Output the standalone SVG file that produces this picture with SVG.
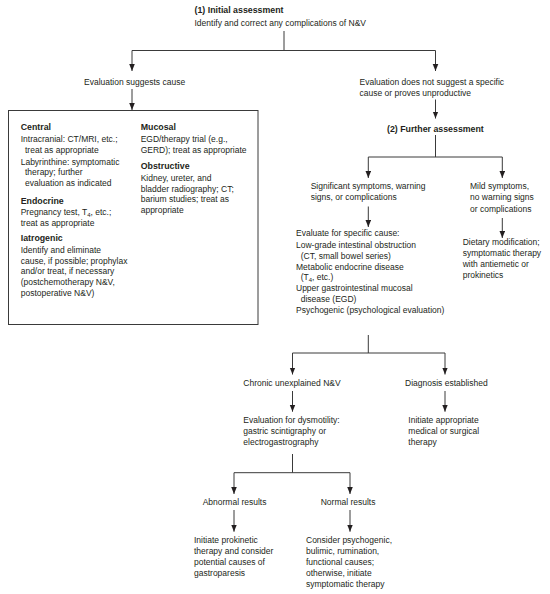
<svg xmlns="http://www.w3.org/2000/svg" width="550" height="594" viewBox="0 0 550 594">
<defs>
<marker id="ah" markerUnits="userSpaceOnUse" markerWidth="8" markerHeight="8" refX="7" refY="3" orient="auto">
<path d="M0,0.2 L7,3 L0,5.8 z" fill="#231f20"/>
</marker>
<style>
text{font-family:"Liberation Sans",Arial,sans-serif;font-size:8.5px;fill:#231f20}
.b{font-weight:bold;font-size:8.8px}
.c line{stroke:#3a3a3a;stroke-width:1;fill:none}
.a{marker-end:url(#ah)}
.box{fill:none;stroke:#3a3a3a;stroke-width:1}
.sub{font-size:6px}
</style>
</defs>
<rect width="550" height="594" fill="#fff"/>

<g class="c" id="connectors">
<line x1="284" y1="31" x2="284" y2="50.5"/>
<line x1="132" y1="50.5" x2="435.5" y2="50.5"/>
<line class="a" x1="132" y1="50.5" x2="132" y2="71"/>
<line class="a" x1="435.5" y1="50.5" x2="435.5" y2="71"/>
<line class="a" x1="132" y1="89" x2="132" y2="110"/>
<line class="a" x1="435.5" y1="99.5" x2="435.5" y2="118.5"/>
<line x1="435.5" y1="135" x2="435.5" y2="157"/>
<line x1="368.3" y1="157" x2="502.3" y2="157"/>
<line class="a" x1="368.3" y1="157" x2="368.3" y2="178"/>
<line class="a" x1="502.3" y1="157" x2="502.3" y2="178"/>
<line class="a" x1="368.3" y1="206.5" x2="368.3" y2="227"/>
<line class="a" x1="502.3" y1="218" x2="502.3" y2="238"/>
<line x1="368.3" y1="335" x2="368.3" y2="353"/>
<line x1="292.5" y1="353" x2="445" y2="353"/>
<line class="a" x1="292.5" y1="353" x2="292.5" y2="374.5"/>
<line class="a" x1="445" y1="353" x2="445" y2="374.5"/>
<line class="a" x1="292.5" y1="391" x2="292.5" y2="411.7"/>
<line class="a" x1="445" y1="391" x2="445" y2="411.7"/>
<line x1="292.5" y1="454" x2="292.5" y2="472.7"/>
<line x1="234" y1="472.7" x2="350" y2="472.7"/>
<line class="a" x1="234" y1="472.7" x2="234" y2="494"/>
<line class="a" x1="350" y1="472.7" x2="350" y2="494"/>
<line class="a" x1="234" y1="510" x2="234" y2="531.7"/>
<line class="a" x1="350" y1="510" x2="350" y2="531.7"/>
</g>

<g id="initial">
<text class="b" x="194.5" y="13">(1) Initial assessment</text>
<text x="194.5" y="25.5">Identify and correct any complications of N&amp;V</text>
</g>

<g id="suggests">
<text x="84" y="85">Evaluation suggests cause</text>
</g>

<g id="not-suggest">
<text x="359.5" y="84.5">Evaluation does not suggest a specific</text>
<text x="359.5" y="95.5">cause or proves unproductive</text>
</g>

<g id="causes-box">
<rect class="box" x="8.5" y="110.5" width="249.5" height="214"/>
<text class="b" x="20.7" y="130">Central</text>
<text x="20.7" y="142">Intracranial: CT/MRI, etc.;</text>
<text x="25" y="152.7">treat as appropriate</text>
<text x="20.7" y="164.5">Labyrinthine: symptomatic</text>
<text x="25" y="175.2">therapy; further</text>
<text x="25" y="185.9">evaluation as indicated</text>
<text class="b" x="20.7" y="203.5">Endocrine</text>
<text x="20.7" y="215">Pregnancy test, T<tspan class="sub" dy="1.5">4</tspan><tspan dy="-1.5">, etc.;</tspan></text>
<text x="20.7" y="225.7">treat as appropriate</text>
<text class="b" x="20.7" y="241">Iatrogenic</text>
<text x="20.7" y="253">Identify and eliminate</text>
<text x="20.7" y="263.7">cause, if possible; prophylax</text>
<text x="20.7" y="274.4">and/or treat, if necessary</text>
<text x="20.7" y="285.1">(postchemotherapy N&amp;V,</text>
<text x="20.7" y="295.8">postoperative N&amp;V)</text>
<text class="b" x="140.7" y="130">Mucosal</text>
<text x="140.7" y="142">EGD/therapy trial (e.g.,</text>
<text x="140.7" y="152.7">GERD); treat as appropriate</text>
<text class="b" x="140.7" y="169">Obstructive</text>
<text x="140.7" y="181">Kidney, ureter, and</text>
<text x="140.7" y="191.7">bladder radiography; CT;</text>
<text x="140.7" y="202.4">barium studies; treat as</text>
<text x="140.7" y="213.1">appropriate</text>
</g>

<g id="further">
<text class="b" x="387" y="131.5">(2) Further assessment</text>
</g>

<g id="significant">
<text x="310.7" y="189">Significant symptoms, warning</text>
<text x="310.7" y="200.3">signs, or complications</text>
</g>

<g id="mild">
<text x="470" y="189">Mild symptoms,</text>
<text x="470" y="200.3">no warning signs</text>
<text x="470" y="211.6">or complications</text>
</g>

<g id="evaluate">
<text x="296" y="236.3">Evaluate for specific cause:</text>
<text x="296" y="248">Low-grade intestinal obstruction</text>
<text x="300.7" y="258.5">(CT, small bowel series)</text>
<text x="296" y="269.7">Metabolic endocrine disease</text>
<text x="300.7" y="280.2">(T<tspan class="sub" dy="1.5">4</tspan><tspan dy="-1.5">, etc.)</tspan></text>
<text x="296" y="291.3">Upper gastrointestinal mucosal</text>
<text x="300.7" y="301.8">disease (EGD)</text>
<text x="296" y="313">Psychogenic (psychological evaluation)</text>
</g>

<g id="dietary">
<text x="462.7" y="244.7">Dietary modification;</text>
<text x="462.7" y="255.8">symptomatic therapy</text>
<text x="462.7" y="266.9">with antiemetic or</text>
<text x="462.7" y="278">prokinetics</text>
</g>

<g id="chronic">
<text x="243.3" y="386">Chronic unexplained N&amp;V</text>
</g>

<g id="diagnosis">
<text x="405" y="386">Diagnosis established</text>
</g>

<g id="dysmotility">
<text x="243.3" y="422.7">Evaluation for dysmotility:</text>
<text x="243.3" y="433.7">gastric scintigraphy or</text>
<text x="243.3" y="444.7">electrogastrography</text>
</g>

<g id="initiate-therapy">
<text x="408.3" y="422.7">Initiate appropriate</text>
<text x="408.3" y="433.7">medical or surgical</text>
<text x="408.3" y="444.7">therapy</text>
</g>

<g id="abnormal">
<text x="202.7" y="505.3">Abnormal results</text>
</g>

<g id="normal">
<text x="320.7" y="505.3">Normal results</text>
</g>

<g id="prokinetic">
<text x="194" y="543">Initiate prokinetic</text>
<text x="194" y="554">therapy and consider</text>
<text x="194" y="565">potential causes of</text>
<text x="194" y="576">gastroparesis</text>
</g>

<g id="consider">
<text x="306" y="543">Consider psychogenic,</text>
<text x="306" y="554">bulimic, rumination,</text>
<text x="306" y="565">functional causes;</text>
<text x="306" y="576">otherwise, initiate</text>
<text x="306" y="587">symptomatic therapy</text>
</g>
</svg>
